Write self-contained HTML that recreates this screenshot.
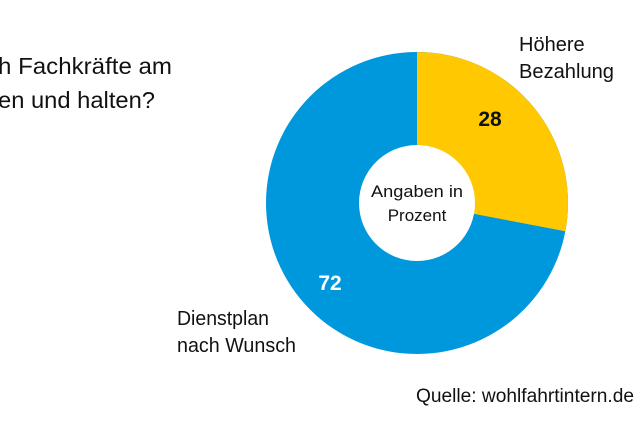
<!DOCTYPE html>
<html><head><meta charset="utf-8"><style>
body{margin:0;width:637px;height:421px;background:#fff;overflow:hidden;font-family:"Liberation Sans",sans-serif;}
</style></head><body>
<svg width="637" height="421" xmlns="http://www.w3.org/2000/svg" font-family="Liberation Sans, sans-serif">
<text x="-2" y="74" font-size="23" fill="#111" textLength="174" lengthAdjust="spacingAndGlyphs">h Fachkräfte am</text>
<text x="-2" y="108" font-size="23" fill="#111" textLength="157" lengthAdjust="spacingAndGlyphs">en und halten?</text>
<circle cx="417" cy="203" r="151" fill="#0098dc"/>
<path d="M417 203 L417 52 A151 151 0 0 1 565.3 231.3 Z" fill="#ffc800"/>
<circle cx="417" cy="203" r="58" fill="#fff"/>
<text x="417" y="197" font-size="17" text-anchor="middle" fill="#111" textLength="92" lengthAdjust="spacingAndGlyphs">Angaben in</text>
<text x="417" y="221" font-size="17" text-anchor="middle" fill="#111">Prozent</text>
<text x="490" y="126" font-size="21" font-weight="bold" text-anchor="middle" fill="#111">28</text>
<text x="330" y="290" font-size="21" font-weight="bold" text-anchor="middle" fill="#fff">72</text>
<text x="519" y="51" font-size="20" fill="#111">Höhere</text>
<text x="519" y="78" font-size="20" fill="#111" textLength="95" lengthAdjust="spacingAndGlyphs">Bezahlung</text>
<text x="177" y="325" font-size="20" fill="#111" textLength="92" lengthAdjust="spacingAndGlyphs">Dienstplan</text>
<text x="177" y="352" font-size="20" fill="#111" textLength="119" lengthAdjust="spacingAndGlyphs">nach Wunsch</text>
<text x="416" y="402" font-size="19" fill="#111" textLength="218" lengthAdjust="spacingAndGlyphs">Quelle: wohlfahrtintern.de</text>
</svg>
</body></html>
